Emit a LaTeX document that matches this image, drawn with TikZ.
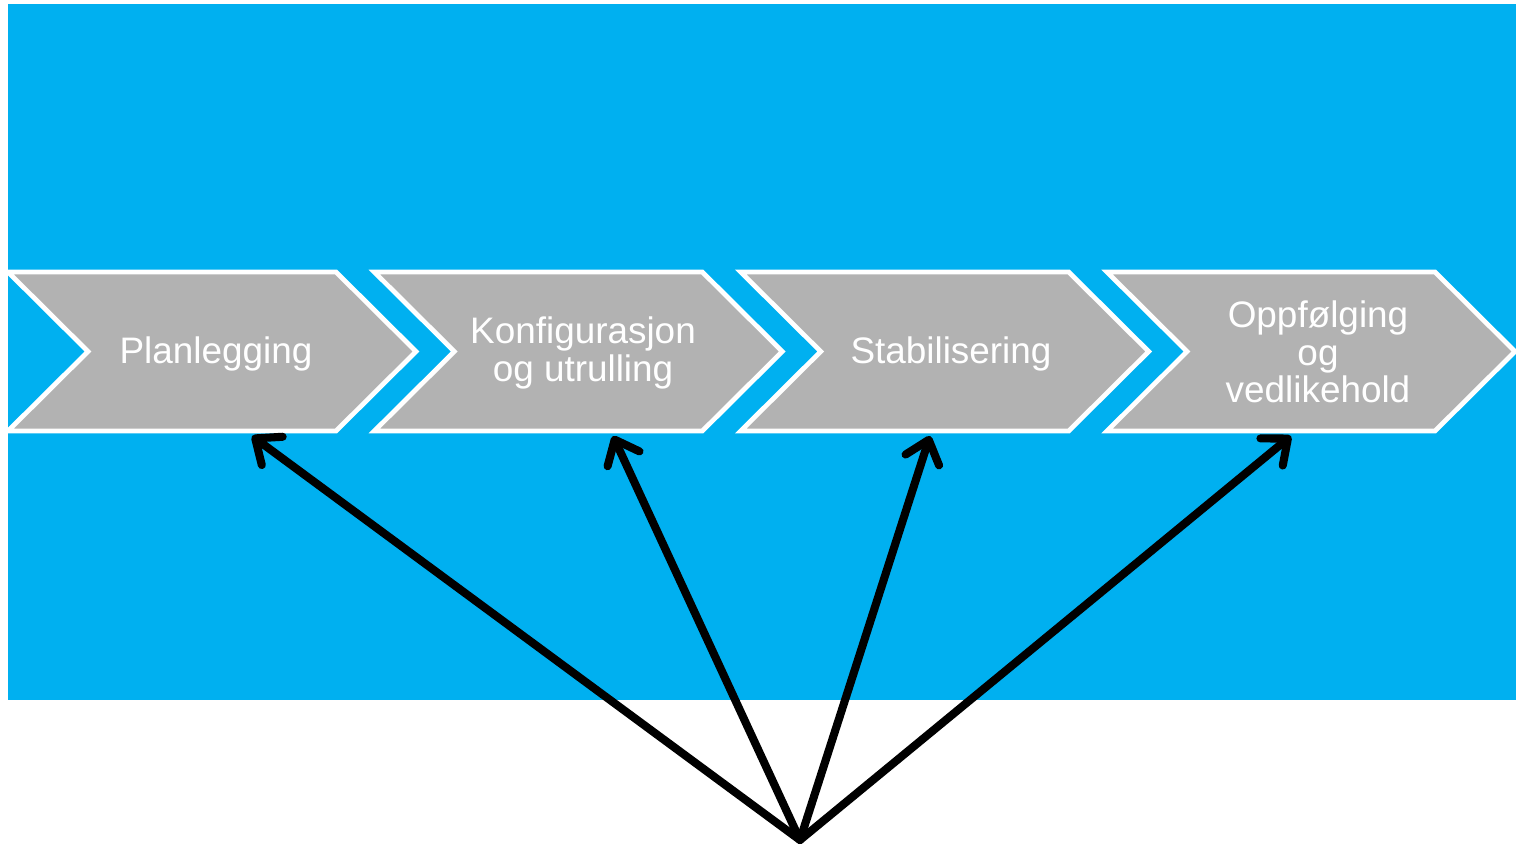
\documentclass[tikz,border=0pt]{standalone}
\usepackage{fontspec}
\setmainfont{Liberation Sans}
\usetikzlibrary{arrows.meta}
\definecolor{skyblue}{RGB}{0,176,240}
\definecolor{stepgray}{RGB}{178,178,178}

\begin{document}
\begin{tikzpicture}[x=0.02cm,y=-0.02cm,
	chevron/.style={fill=stepgray, draw=white, line width=2.7pt},
	phase/.style={text=white, align=center, font=\fontsize{21}{21.5}\selectfont},
	pointer/.style={line width=4.6pt, line cap=round, -{Straight Barb[length=12pt,width=20pt,line cap=round,line join=round]}}]
	\useasboundingbox (0,0) rectangle (1516,848);
	\fill[skyblue] (8,4) rectangle (1516,700);
	\foreach \l in {8,374.3,740.7,1107}
		\draw[chevron] (\l,272) -- (\l+328,272) -- (\l+408,351.5) -- (\l+328,431) -- (\l,431) -- (\l+80,351.5) -- cycle;
	\node[phase] (plan) at (216,354) {Planlegging};
	\node[phase] (konf) at (583,353) {Konfigurasjon\\og utrulling};
	\node[phase] (stab) at (951,354) {Stabilisering};
	\node[phase] (oppf) at (1318,352) {Oppfølging\\og\\vedlikehold};
	\coordinate (hub) at (800,840);
	\coordinate (planfoot) at (252,436);
	\coordinate (konffoot) at (613,436);
	\coordinate (stabfoot) at (930,436);
	\coordinate (oppffoot) at (1291,436);
	\foreach \t in {planfoot,konffoot,stabfoot,oppffoot}
		\draw[pointer] (hub) -- (\t);
\end{tikzpicture}
\end{document}
